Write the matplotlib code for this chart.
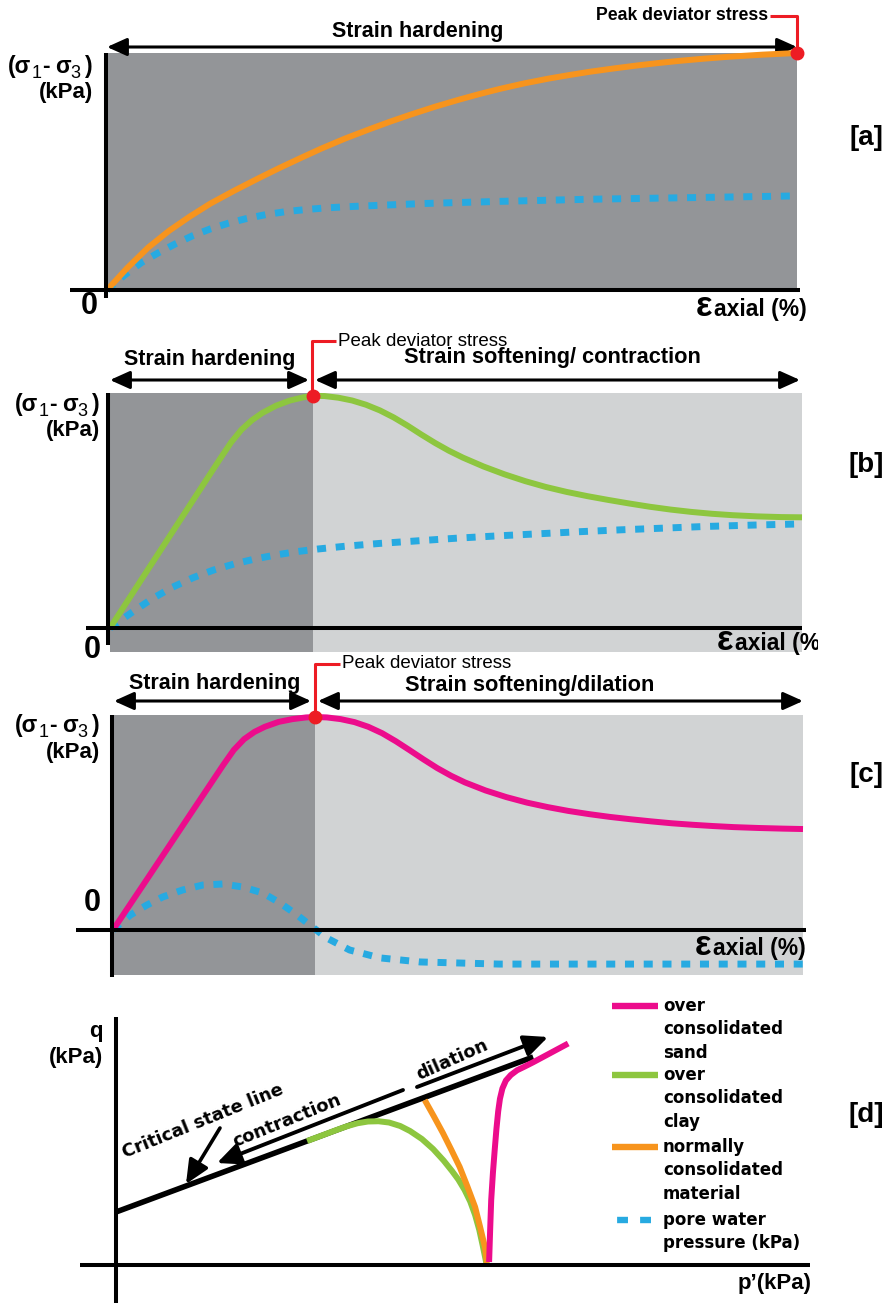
import matplotlib
matplotlib.use("Agg")
import matplotlib.pyplot as plt
from matplotlib.patches import Rectangle

# ---------------- data ----------------
# [a] normally consolidated: strain hardening
a_strain = [0, 3, 6, 9, 12, 15, 18.5, 22, 25, 28, 31, 34.5, 38, 41, 44, 47.5, 51, 54,
            57, 60.5, 64, 67, 70, 73.5, 77, 80, 83, 86.5, 90, 95, 100]
a_dev = [0, 9.5, 18, 25, 31, 36.5, 42, 47.2, 51.5, 55.6, 59.6, 63.9, 67.8, 71, 74,
         77.3, 80.3, 82.7, 84.9, 87.2, 89.2, 90.7, 92.1, 93.5, 94.8, 95.8, 96.7, 97.6,
         98.4, 99.3, 100]
a_pwp_strain = [0, 2.5, 5, 7.5, 10, 12.5, 15, 17.5, 20, 23, 26, 29, 32, 36, 40, 46,
                57, 70, 83, 100]
a_pwp = [0, 6.2, 11.6, 15.8, 19.6, 23, 25.8, 28.1, 30, 31.8, 33.1, 34, 34.7, 35.3,
         35.8, 36.5, 37.4, 38.3, 38.9, 39.7]

# [b] over consolidated clay: softening / contraction
b_strain = [0, 5, 10, 14, 16, 17.5, 19, 20.5, 22, 24, 26, 28, 29.3, 31, 33, 35, 37,
            39, 41, 43, 45, 47, 49, 51, 54, 57, 60, 63, 66, 69, 72, 75, 78, 81, 84, 87,
            90, 93.5, 97, 100]
b_dev = [0, 22.7, 45.3, 63.4, 72.4, 79.0, 84.4, 88.4, 91.5, 94.6, 96.8, 98.2, 98.8,
         98.7, 98.0, 96.8, 95.0, 92.6, 89.6, 86.1, 82.3, 78.7, 75.4, 72.5, 68.7, 65.4,
         62.5, 60.0, 57.9, 56.1, 54.5, 53.0, 51.6, 50.4, 49.4, 48.6, 48.0, 47.5, 47.2,
         47.1]
b_pwp_strain = [0, 3, 6, 9, 12, 15, 18, 21, 24, 27, 30, 34, 39, 44, 50, 56, 62, 68,
                74, 80, 86, 93, 100]
b_pwp = [0, 6.3, 12.3, 17.3, 21.4, 24.7, 27.3, 29.4, 31.1, 32.5, 33.6, 34.8, 36, 37,
         38.2, 39.2, 40.1, 41, 41.8, 42.5, 43.2, 43.8, 44.3]

# [c] over consolidated sand: softening / dilation
c_strain = [0, 5, 10, 14, 16, 17.5, 19, 20.5, 22, 24, 26, 28, 29.3, 31, 33, 35, 37,
            39, 41, 43, 45, 47, 49, 51, 54, 57, 60, 63, 66, 69, 72, 75, 78, 81, 84, 87,
            90, 93.5, 97, 100]
c_dev = [0, 24.2, 48.5, 67.9, 77.6, 84.5, 89.6, 93.0, 95.4, 97.7, 99.0, 99.8, 100,
         99.8, 99.0, 97.6, 95.4, 92.4, 88.6, 84.4, 80.1, 76.0, 72.4, 69.3, 65.5, 62.4,
         59.8, 57.7, 55.9, 54.4, 53.1, 52.0, 51.0, 50.1, 49.4, 48.8, 48.3, 47.9, 47.6,
         47.4]
c_pwp_strain = [0, 2.5, 4.9, 7.2, 10.1, 13, 15.9, 18.8, 21.7, 24.2, 26.7, 28.9, 31,
                34.3, 38.7, 44.5, 56, 100]
c_pwp = [0, 7, 11.7, 15.5, 18.8, 21.1, 21.6, 20.2, 17.4, 12.7, 7, 1.4, -3.8, -9.4,
         -13.1, -15, -16, -16]

# [d] stress paths in p'-q space
csl_p = [0, 59.6]
csl_q = [21.2, 83.2]
clay_p = [27.3, 29.5, 31.5, 33, 34.5, 36, 37.5, 39, 40.6, 42, 43.7, 45.3, 46.8, 48,
          48.9, 49.8, 50.6, 51.3, 51.9, 52.4, 52.9]
clay_q = [49.6, 51.9, 54.0, 55.5, 56.7, 57.4, 57.5, 57.0, 55.6, 53.6, 50.4, 46.4, 41.8,
          37.6, 34.2, 30.0, 25.4, 20.0, 14.0, 7.6, 0.8]
nc_p = [44.1, 45.4, 46.7, 47.9, 49.1, 50.2, 51.3, 52, 52.7, 53]
nc_q = [66, 59.5, 52.8, 46.1, 39.2, 31.4, 23.2, 15.4, 7.2, 0.8]
sand_p = [53.3, 53.45, 53.6, 53.85, 54.1, 54.35, 54.6, 54.85, 55.2, 55.7, 56.4, 57.3,
          58.4, 59.6, 61, 62.8, 64.6]
sand_q = [1.2, 14, 26, 37, 46, 54.5, 61.5, 66.5, 70.6, 73.8, 76.0, 77.9, 79.4, 81.1,
          83.2, 85.9, 88.6]

legend_labels = ["over\nconsolidated\nsand", "over\nconsolidated\nclay",
                 "normally\nconsolidated\nmaterial", "pore water\npressure (kPa)"]

# ---------------- style ----------------
ORANGE = "#F7941D"
BLUE = "#27AAE1"
GREEN = "#8DC63F"
PINK = "#EC0C8C"
RED = "#ED1C24"
DARK = "#939598"
LIGHT = "#D1D3D4"
SANS = "Liberation Sans"
WIDE = "DejaVu Sans"

W, H = 889, 1303
fig = plt.figure(figsize=(W / 100, H / 100), dpi=100)
renderer = fig.canvas.get_renderer()

CURVE_LW = 4.3
AX_LW = 2.9
DASH = dict(lw=5.0, dashes=(1.3, 1.4), dash_capstyle="butt", color=BLUE)


def panel(top, bottom, x0, y0, sx, sy, right=W):
    ax = fig.add_axes([0, 1 - bottom / H, right / W, (bottom - top) / H])
    ax.set_xlim(-x0 / sx, (right - x0) / sx)
    ax.set_ylim((y0 - bottom) / sy, (y0 - top) / sy)
    ax.axis("off")
    m = dict(x0=x0, y0=y0, sx=sx, sy=sy)
    P = lambda x, y: ((x - m["x0"]) / m["sx"], (m["y0"] - y) / m["sy"])
    return ax, P


def line_px(ax, P, pts, **kw):
    xs, ys = zip(*[P(x, y) for x, y in pts])
    ax.plot(xs, ys, solid_capstyle="butt", **kw)


def smooth_plot(ax, xs, ys, **kw):
    ax.plot(xs, ys, solid_joinstyle="round", solid_capstyle="butt", **kw)


def darrow(ax, P, x1, x2, y):
    ax.annotate("", xy=P(x2, y), xytext=P(x1, y),
                arrowprops=dict(arrowstyle="<|-|>,head_length=1.0,head_width=0.45",
                                mutation_scale=12, lw=2.2, color="black",
                                shrinkA=0, shrinkB=0))


def arrow(ax, P, tail, tip, lw=2.8, ms=13):
    ax.annotate("", xy=P(*tip), xytext=P(*tail),
                arrowprops=dict(arrowstyle="-|>,head_length=1.1,head_width=0.5",
                                mutation_scale=ms, lw=lw, color="black",
                                shrinkA=0, shrinkB=0))


def rich_text(x_right, y_base, pieces):
    """pieces: (text, size, weight, drop_px, gap_after_px); pixel coords, y down."""
    items = []
    for s, size, weight, drop, gap in pieces:
        t = fig.text(0, 0, s, fontsize=size, family=SANS, weight=weight,
                     ha="left", va="baseline", transform=None)
        w = t.get_window_extent(renderer).width
        items.append((t, drop, w, gap))
    total = sum(w + g for _, _, w, g in items)
    x = x_right - total
    for t, drop, w, g in items:
        t.set_position((x, H - (y_base + drop)))
        x += w + g


def ylabel(ax, P, xr, yb1, yb2):
    rich_text(xr, yb1, [("(σ", 16.5, "bold", 0, 0), ("1", 13, "normal", 5, 1),
                        ("-", 16.5, "bold", 0, 5), ("σ", 16.5, "bold", 0, 0),
                        ("3", 13, "normal", 5, 5), (")", 16.5, "bold", 0, 0)])
    ax.text(*P(xr, yb2), "(kPa)", fontsize=16, family=SANS, weight="bold",
            ha="right", va="baseline")


def eps_label(ax, P, x, y, clip=False):
    ax.text(*P(x, y), "ε", fontsize=25, family=SANS, weight="bold",
            ha="left", va="baseline", clip_on=clip)
    ax.text(*P(x + 18, y), "axial (%)", fontsize=16.5, family=SANS,
            weight="bold", ha="left", va="baseline", clip_on=clip)


def peak_label(ax, P, px, py_dot, py_top, x_text_end, left=True):
    if left:
        line_px(ax, P, [(px, py_dot), (px, py_top), (x_text_end, py_top)],
                color=RED, lw=2.2)
        ax.text(*P(x_text_end + 2, py_top), "Peak deviator stress",
                fontsize=13.5, family=SANS, ha="left", va="center")
    else:
        line_px(ax, P, [(x_text_end, py_top), (px, py_top), (px, py_dot)],
                color=RED, lw=2.2)
        ax.text(*P(x_text_end - 2, py_top), "Peak deviator stress",
                fontsize=12.7, family=SANS, weight="bold", ha="right", va="center")


# ================= panel [a] =================
ax, P = panel(0, 325, 107, 290, 6.9, 2.37)
ax.add_patch(Rectangle((0, 0), 100, 100, fc=DARK, ec="none", zorder=0))
ax.plot(a_pwp_strain, a_pwp, zorder=3, **DASH)
smooth_plot(ax, a_strain, a_dev, color=ORANGE, lw=CURVE_LW, zorder=4)
line_px(ax, P, [(106, 53), (106, 298)], color="black", lw=AX_LW, zorder=5)
line_px(ax, P, [(70, 290), (800, 290)], color="black", lw=AX_LW, zorder=5)
darrow(ax, P, 107, 797, 47)
ax.text(*P(418, 31), "Strain hardening", fontsize=15.5, family=SANS, weight="bold",
        ha="center", va="center")
peak_label(ax, P, 797, 50, 16, 770, left=False)
ax.plot(a_strain[-1], a_dev[-1], "o", color=RED, ms=9, zorder=6)
ylabel(ax, P, 93, 73, 98)
ax.text(*P(89, 306), "0", fontsize=22, family=SANS, weight="bold", ha="center",
        va="center")
eps_label(ax, P, 696, 316)
ax.text(*P(866, 138), "[a]", fontsize=20, family=SANS, weight="bold", ha="center",
        va="center")

# ================= panel [b] =================
ax, P = panel(325, 660, 110, 628, 6.92, 2.35, right=818)
bpk = b_dev.index(max(b_dev))
b_peak = b_strain[bpk]
ylow = P(0, 652)[1]
ax.add_patch(Rectangle((0, ylow), b_peak, 100 - ylow, fc=DARK, ec="none", zorder=0))
ax.add_patch(Rectangle((b_peak, ylow), 100 - b_peak, 100 - ylow, fc=LIGHT,
                       ec="none", zorder=0))
ax.plot(b_pwp_strain, b_pwp, zorder=3, **DASH)
smooth_plot(ax, b_strain, b_dev, color=GREEN, lw=CURVE_LW, zorder=4)
line_px(ax, P, [(108, 393), (108, 645)], color="black", lw=AX_LW, zorder=5)
line_px(ax, P, [(86, 628), (802, 628)], color="black", lw=AX_LW, zorder=5)
darrow(ax, P, 110, 309, 380)
darrow(ax, P, 315, 800, 380)
ax.text(*P(210, 360), "Strain hardening", fontsize=15.5, family=SANS, weight="bold",
        ha="center", va="center")
ax.text(*P(552, 358), "Strain softening/ contraction", fontsize=15.7, family=SANS,
        weight="bold", ha="center", va="center")
peak_label(ax, P, 312, 396, 341, 336)
ax.plot(b_peak, b_dev[bpk], "o", color=RED, ms=9, zorder=6)
ylabel(ax, P, 100, 411, 436)
ax.text(*P(92, 650), "0", fontsize=22, family=SANS, weight="bold", ha="center",
        va="center")
eps_label(ax, P, 717, 650, clip=True)
ax.text(*P(866, 465), "[b]", fontsize=20, family=SANS, weight="bold", ha="center",
        va="center")

# ================= panel [c] =================
ax, P = panel(660, 985, 113, 930, 6.9, 2.13)
cpk = c_dev.index(max(c_dev))
c_peak = c_strain[cpk]
ybot = P(0, 975)[1]
ytop = P(0, 715)[1]
ax.add_patch(Rectangle((0, ybot), c_peak, ytop - ybot, fc=DARK, ec="none", zorder=0))
ax.add_patch(Rectangle((c_peak, ybot), 100 - c_peak, ytop - ybot, fc=LIGHT,
                       ec="none", zorder=0))
ax.plot(c_pwp_strain, c_pwp, zorder=3, **DASH)
smooth_plot(ax, c_strain, c_dev, color=PINK, lw=CURVE_LW, zorder=4)
line_px(ax, P, [(112, 715), (112, 977)], color="black", lw=AX_LW, zorder=5)
line_px(ax, P, [(76, 930), (806, 930)], color="black", lw=AX_LW, zorder=5)
darrow(ax, P, 114, 311, 701)
darrow(ax, P, 318, 803, 701)
ax.text(*P(215, 683), "Strain hardening", fontsize=15.5, family=SANS, weight="bold",
        ha="center", va="center")
ax.text(*P(530, 686), "Strain softening/dilation", fontsize=15.7, family=SANS,
        weight="bold", ha="center", va="center")
peak_label(ax, P, 315, 717, 664, 340)
ax.plot(c_peak, c_dev[cpk], "o", color=RED, ms=9, zorder=6)
ylabel(ax, P, 100, 732, 758)
ax.text(*P(92, 903), "0", fontsize=22, family=SANS, weight="bold", ha="center",
        va="center")
eps_label(ax, P, 695, 955)
ax.text(*P(866, 775), "[c]", fontsize=20, family=SANS, weight="bold", ha="center",
        va="center")

# ================= panel [d] =================
ax, P = panel(985, 1303, 116, 1265, 7.0, 2.5)
line_px(ax, P, [(116, 1017), (116, 1303)], color="black", lw=AX_LW, zorder=5)
line_px(ax, P, [(80, 1265), (810, 1265)], color="black", lw=AX_LW, zorder=5)
ax.plot(csl_p, csl_q, color="black", lw=4.0, solid_capstyle="butt", zorder=3)
smooth_plot(ax, clay_p, clay_q, color=GREEN, lw=CURVE_LW, zorder=4)
smooth_plot(ax, nc_p, nc_q, color=ORANGE, lw=CURVE_LW, zorder=4)
smooth_plot(ax, sand_p, sand_q, color=PINK, lw=CURVE_LW, zorder=4)
arrow(ax, P, (403, 1090), (217, 1163))
arrow(ax, P, (417, 1087), (548, 1037))
arrow(ax, P, (220, 1128), (186, 1184), lw=2.6)
ax.text(*P(203, 1121), "Critical state line", fontsize=12.8, family=WIDE,
        weight="bold", rotation=22, ha="center", va="center", rotation_mode="anchor")
ax.text(*P(287, 1121), "contraction", fontsize=13, family=WIDE, weight="bold",
        rotation=22, ha="center", va="center", rotation_mode="anchor")
ax.text(*P(452, 1060), "dilation", fontsize=13, family=WIDE, weight="bold",
        rotation=24, ha="center", va="center", rotation_mode="anchor")
ax.text(*P(103, 1032), "q", fontsize=16, family=SANS, weight="bold", ha="right",
        va="center")
ax.text(*P(103, 1058), "(kPa)", fontsize=16, family=SANS, weight="bold", ha="right",
        va="center")
ax.text(*P(812, 1283), "p’(kPa)", fontsize=16, family=SANS, weight="bold",
        ha="right", va="center")
ax.text(*P(866, 1115), "[d]", fontsize=20, family=SANS, weight="bold", ha="center",
        va="center")

# legend (manual)
leg_colors = [PINK, GREEN, ORANGE, BLUE]
leg_y = [1006, 1075, 1147, 1220]
for lab, col, yy in zip(legend_labels, leg_colors, leg_y):
    xa, ya = P(612, yy)
    xb, _ = P(658, yy)
    if col == BLUE:
        ax.plot([xa, xb], [ya, ya], color=BLUE, lw=4.6, dash_capstyle="butt",
                dashes=(0, 0.8, 1.7, 1.9, 1.7, 2.0), clip_on=False)
    else:
        ax.plot([xa, xb], [ya, ya], color=col, lw=4.6, solid_capstyle="butt",
                clip_on=False)
    ax.text(*P(663, yy - 9), lab, fontsize=12, family=WIDE, weight="bold",
            ha="left", va="top", linespacing=1.38)

fig.savefig("out.png", dpi=100)
